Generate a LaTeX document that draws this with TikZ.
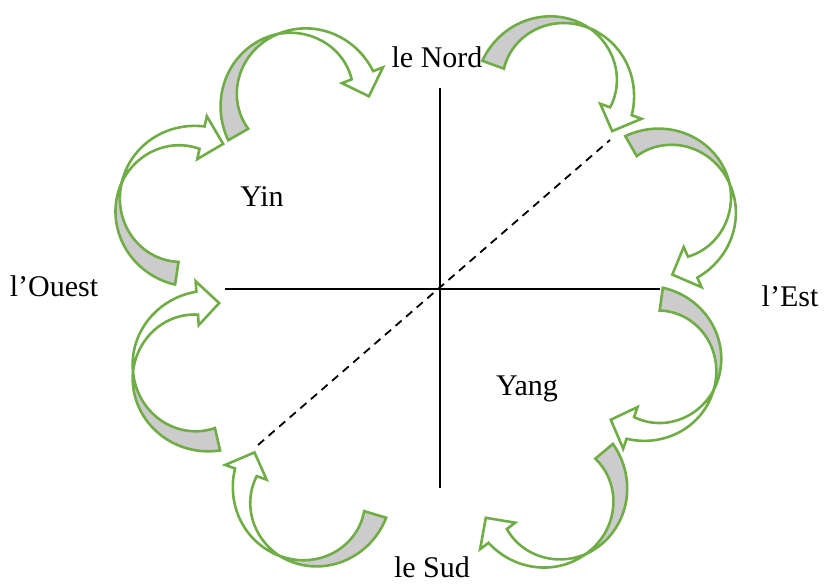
\documentclass[tikz,border=0pt]{standalone}
\usepackage{fontspec}
\setmainfont{Liberation Serif}
\definecolor{arrgreen}{RGB}{112,173,71}
\definecolor{arrgray}{RGB}{204,204,204}
\newcommand{\Wd}{11.5}
\newcommand{\Hd}{22}
\newcommand{\Dl}{18}
% #1 cx, #2 cy, #3 R, #4 start angle (tail), #5 end angle (head base)
\newcommand{\cvarrow}[5]{%
  \pgfmathsetmacro\am{(#4+#5)/2+9}%
  \pgfmathsetmacro\ka{\Wd/(\am-(#4))}%
  \pgfmathsetmacro\kb{\Wd/((#5)-\am)}%
  \filldraw[arrowpart, fill=arrgray]
    plot[domain=#4:\am] ({#1+(#3+\ka*(\am-\x))*cos(\x)},{#2+(#3+\ka*(\am-\x))*sin(\x)})
    -- plot[domain=\am:#4] ({#1+(#3-\ka*(\am-\x))*cos(\x)},{#2+(#3-\ka*(\am-\x))*sin(\x)})
    -- cycle;
  \filldraw[arrowpart, fill=white]
    plot[domain=\am:#5] ({#1+(#3+\kb*(\x-\am))*cos(\x)},{#2+(#3+\kb*(\x-\am))*sin(\x)})
    -- ({#1+(#3+\Hd)*cos(#5)},{#2+(#3+\Hd)*sin(#5)})
    -- ({#1+(#3+2)*cos(#5+\Dl)},{#2+(#3+2)*sin(#5+\Dl)})
    -- ({#1+(#3-\Hd)*cos(#5)},{#2+(#3-\Hd)*sin(#5)})
    -- plot[domain=#5:\am] ({#1+(#3-\kb*(\x-\am))*cos(\x)},{#2+(#3-\kb*(\x-\am))*sin(\x)})
    -- cycle;
}
\begin{document}
\begin{tikzpicture}[x=1pt,y=-1pt,line join=miter,
  arrowpart/.style={draw=arrgreen,line width=2.6pt,samples=40},
  axisline/.style={line width=1.8pt},
  lbl/.style={font=\fontsize{30}{34}\selectfont,inner sep=0pt,anchor=base}]
\useasboundingbox (0,0) rectangle (827,584);
% curved arrows
\cvarrow{298}{100}{69}{150}{339}
\cvarrow{557}{88}{68}{200}{380}
\cvarrow{665}{205}{68}{240}{426}
\cvarrow{652}{365}{66.5}{278}{469}
\cvarrow{552}{495}{68}{320}{503}
\cvarrow{310}{495}{68}{16.6}{199.5}
\cvarrow{202}{372}{69}{77}{266}
\cvarrow{187}{205}{69}{98.5}{282.6}
% axes
\coordinate (vt) at (440,88);
\coordinate (vb) at (440,488);
\coordinate (hl) at (225,289);
\coordinate (hr) at (660,289);
\coordinate (dl) at (258,445);
\coordinate (dr) at (610,140);
\draw[axisline] (vt) -- (vb);
\draw[axisline] (hl) -- (hr);
\draw[axisline,dash pattern=on 8pt off 6pt] (dl) -- (dr);
% labels
\node[lbl] (nord) at (437,67) {le Nord};
\node[lbl] (est) at (790,306) {l’Est};
\node[lbl] (sud) at (432,577) {le Sud};
\node[lbl] (ouest) at (54,296) {l’Ouest};
\node[lbl] (yin) at (262,206) {Yin};
\node[lbl] (yang) at (527,395) {Yang};
\end{tikzpicture}
\end{document}
